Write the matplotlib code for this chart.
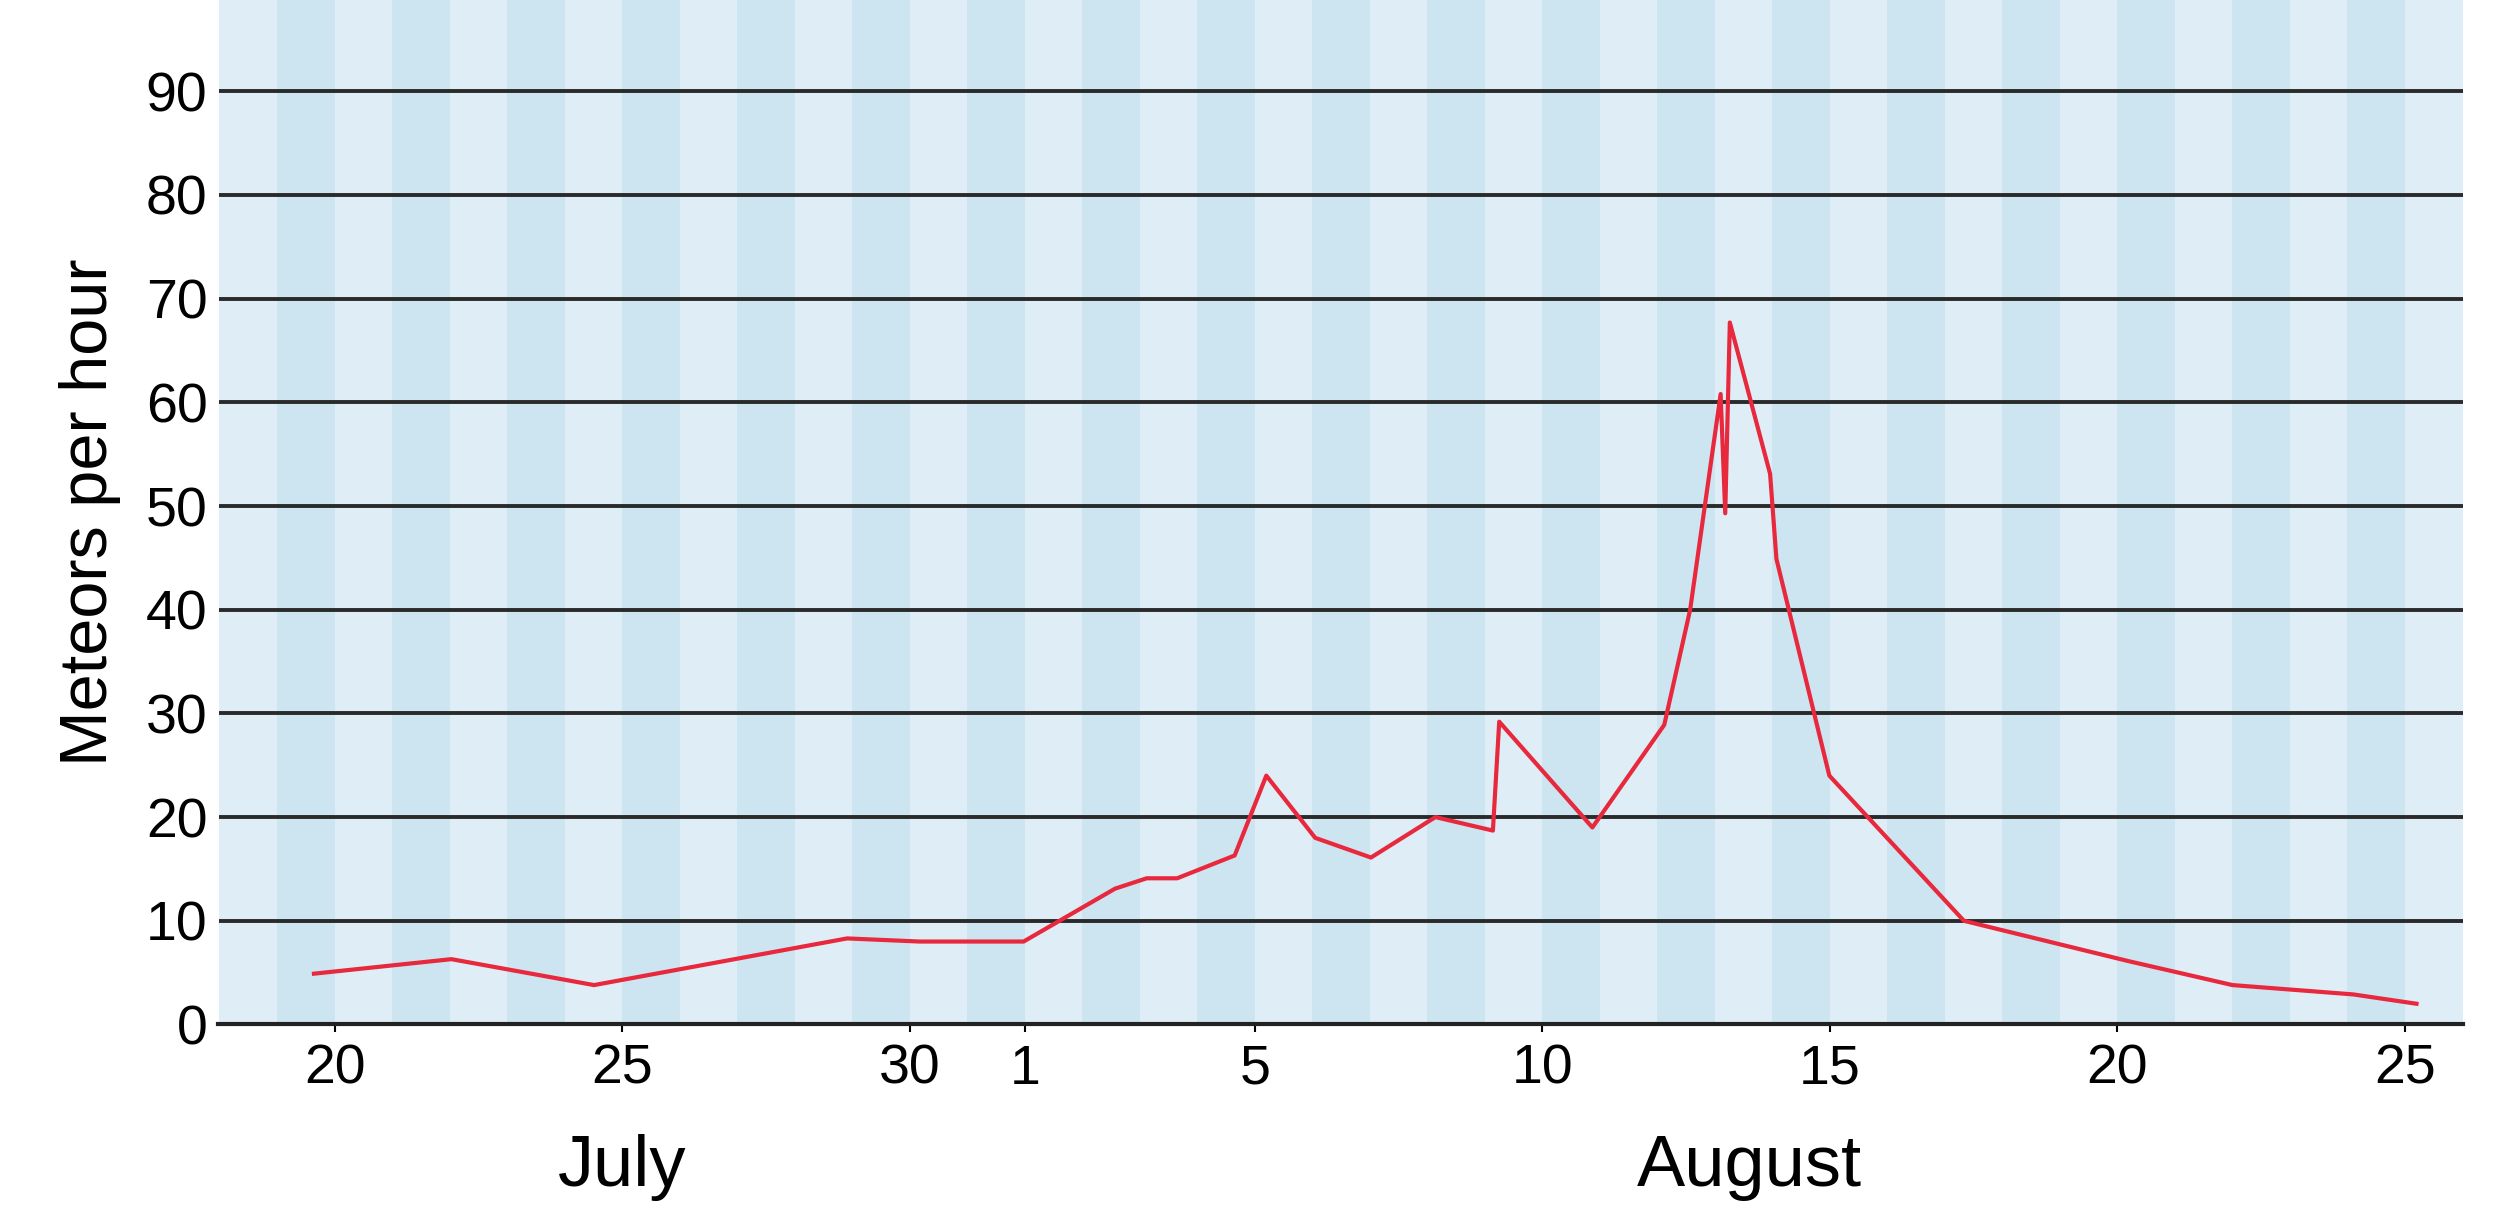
import matplotlib
matplotlib.use("Agg")
import matplotlib.pyplot as plt

# day index: 0 = July 20, 12 = Aug 1
days = [-0.36, 2.03, 4.51, 8.91, 10.17, 11.98, 13.57, 14.12, 14.65, 15.65, 16.2, 17.05, 18.02,
        19.14, 20.14, 20.25, 21.87, 23.12, 23.57, 24.1, 24.18, 24.26, 24.96, 25.07, 25.99,
        28.33, 31.2, 33.0, 35.1, 36.2]
rates = [4.9, 6.3, 3.8, 8.3, 8.0, 8.0, 13.1, 14.1, 14.1, 16.3, 24.0, 18.0, 16.1,
         20.0, 18.7, 29.2, 19.0, 28.9, 40.0, 60.8, 49.3, 67.7, 53.1, 44.9, 24.0,
         10.0, 6.1, 3.8, 2.9, 2.0]
tick_days = [0, 5, 10, 12, 16, 21, 26, 31, 36]
tick_labels = ["20", "25", "30", "1", "5", "10", "15", "20", "25"]
yticks = [0, 10, 20, 30, 40, 50, 60, 70, 80, 90]
months = [("July", 5.0), ("August", 24.6)]

plt.rcParams['font.family'] = ['Liberation Sans', 'DejaVu Sans']
fig = plt.figure(figsize=(25, 12.24), dpi=100)
ax = fig.add_axes([0.0874, 0.163, 0.8976, 0.837])
xmin, xmax = -2.02, 37.0
ax.set_xlim(xmin, xmax)
ax.set_ylim(0, 98.8)
ax.set_facecolor('#dfeef6')
for s in range(-1, 38, 2):
    ax.axvspan(s, s + 1, color='#cde5f1', lw=0, zorder=0)
for y in yticks[1:]:
    ax.axhline(y, color='#2a2a2a', lw=2.8, zorder=1)
ax.plot(days, rates, color='#e8283c', lw=3.0, zorder=3)

for sp in ['top', 'right', 'left']:
    ax.spines[sp].set_visible(False)
ax.spines['bottom'].set_color('#222222')
ax.spines['bottom'].set_linewidth(3)
ax.set_xticks(tick_days)
ax.set_xticklabels(tick_labels)
ax.set_yticks(yticks)
ax.tick_params(axis='x', length=6, width=1.5, labelsize=40, pad=8)
ax.tick_params(axis='y', length=0, labelsize=40, pad=8)
ax.set_ylabel("Meteors per hour", fontsize=48, labelpad=18)
for name, d in months:
    ax.text(d, -13.8, name, ha='center', va='center', fontsize=52, transform=ax.transData)
fig.savefig("out.png", dpi=100)
